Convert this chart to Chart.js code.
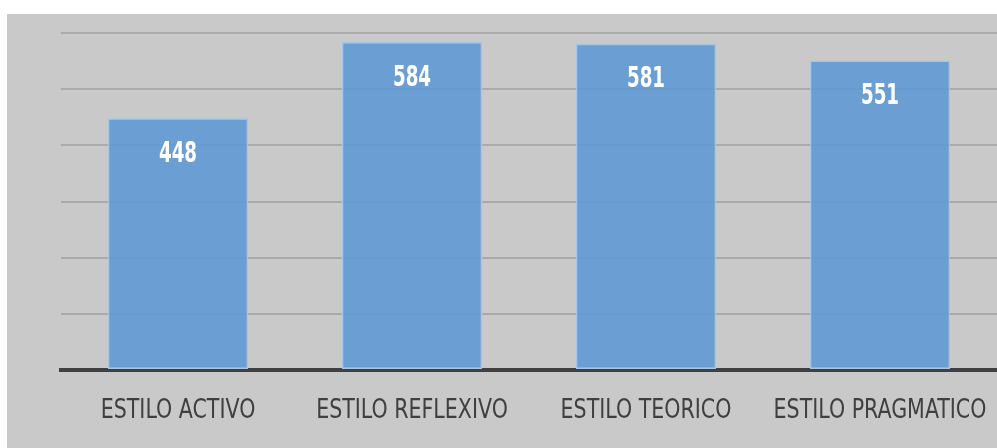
<!DOCTYPE html>
<html lang="es">
<head>
    <meta charset="UTF-8">
    <title>Estilos de aprendizaje</title>
    <script src="https://cdn.jsdelivr.net/npm/chart.js"></script>
    <style>
        html, body { margin: 0; padding: 0; background: #ffffff; }
        #panel { position: absolute; left: 7px; top: 14px; width: 990px; height: 434px; background: #c9c9c9; }
    </style>
</head>
<body>
    <div id="panel">
        <canvas id="estilosChart" width="990" height="434"></canvas>
    </div>

    <script>
        // datos
        const categorias = ['ESTILO ACTIVO', 'ESTILO REFLEXIVO', 'ESTILO TEORICO', 'ESTILO PRAGMATICO'];
        const puntajes = [448, 584, 581, 551];
        const ejeMin = 0;
        const ejeMax = 600;
        const ejePaso = 100;

        const fuente = "'DejaVu Sans Condensed', 'DejaVu Sans', sans-serif";

        // texto estrecho (tipo Calibri) dibujado con escala horizontal
        function textoEstrecho(ctx, txt, x, y, font, sx, color) {
            ctx.save();
            ctx.fillStyle = color;
            ctx.font = font + ' ' + fuente;
            ctx.textAlign = 'center';
            ctx.textBaseline = 'middle';
            ctx.translate(x, y);
            ctx.scale(sx, 1);
            ctx.fillText(txt, 0, 0);
            ctx.restore();
        }

        // valores blancos dentro de las barras + categorias debajo del eje
        const etiquetas = {
            id: 'etiquetas',
            afterDatasetsDraw(chart) {
                const ctx = chart.ctx;
                const meta = chart.getDatasetMeta(0);
                const xs = chart.scales.x;
                meta.data.forEach((bar, i) => {
                    textoEstrecho(ctx, String(puntajes[i]), bar.x, bar.y + 36, 'bold 29px', 0.7, '#ffffff');
                });
                categorias.forEach((c, i) => {
                    textoEstrecho(ctx, c, xs.getPixelForTick(i), chart.chartArea.bottom + 41, '26px', 0.88, '#404040');
                });
            }
        };

        new Chart(document.getElementById('estilosChart'), {
            type: 'bar',
            data: {
                labels: categorias,
                datasets: [{
                    data: puntajes,
                    backgroundColor: 'rgba(93,153,212,0.88)',
                    borderColor: '#a3c6e8',
                    borderWidth: 1.5,
                    borderSkipped: false,
                    categoryPercentage: 1,
                    barPercentage: 0.6
                }]
            },
            options: {
                responsive: false,
                animation: false,
                layout: { padding: { left: 54, top: 19, right: 0, bottom: 0 } },
                plugins: {
                    legend: { display: false },
                    tooltip: { enabled: false }
                },
                scales: {
                    x: {
                        grid: { display: false, drawTicks: false },
                        border: { display: true, color: '#404040', width: 4 },
                        ticks: { display: false },
                        afterFit(scale) { scale.height = 78; }
                    },
                    y: {
                        min: ejeMin,
                        max: ejeMax,
                        ticks: { stepSize: ejePaso, display: false },
                        grid: { color: '#aaaaaa', lineWidth: 2, drawTicks: false },
                        border: { display: false },
                        afterFit(scale) { scale.width = 0; }
                    }
                }
            },
            plugins: [etiquetas]
        });
    </script>
</body>
</html>
